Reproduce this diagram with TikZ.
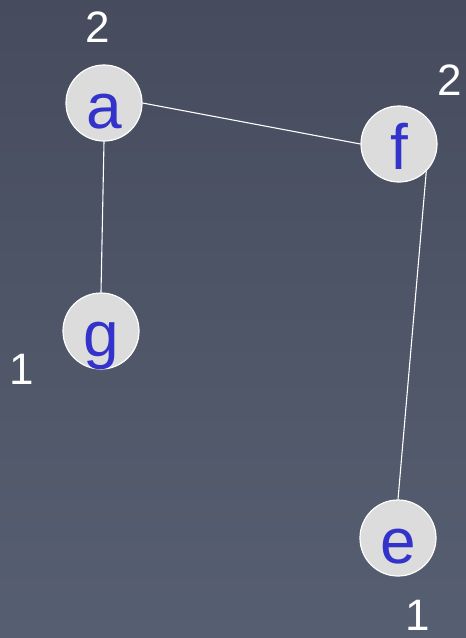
\documentclass[tikz,border=0pt]{standalone}
\usepackage{fontspec}
\setmainfont{Liberation Sans}
\usepackage{xcolor}
\usetikzlibrary{positioning}
\definecolor{bgtop}{RGB}{70,76,94}
\definecolor{bgbottom}{RGB}{86,95,113}
\definecolor{ballfill}{RGB}{220,220,220}
\definecolor{balltext}{RGB}{51,51,204}

\begin{document}
\begin{tikzpicture}[x=1pt,y=-1pt,
					ball/.style = {circle, draw=white, line width=1.2pt, fill=ballfill, minimum size=76pt, inner sep=0pt, text=balltext, text height=50pt, text depth=0pt, font=\fontsize{64}{64}\selectfont},
					deg/.style = {text=white, font=\fontsize{44}{44}\selectfont, inner sep=0pt},
					edge/.style = {-, draw=white, line width=1.1pt}]
					\shade[top color=bgtop, bottom color=bgbottom] (0,0) rectangle (466,638);
					\useasboundingbox (0,0) rectangle (466,638);
					\node[ball] (a) at (104, 103) {a};
					\node[ball] (f) at (399, 144) {f};
					\node[ball] (g) at (101, 331) {g};
					\node[ball] (e) at (398, 538) {e};
					
					\node[deg] (da) at (98, 27) {2};
					\node[deg] (df) at (450, 80) {2};
					\node[deg] (dg) at (22, 369) {1};
					\node[deg] (de) at (418, 615) {1};
					
					\draw[edge] (a.east) to (f.west);
					\draw[edge] (a.south) to (g.north);
					\draw[edge] (f.south east) to (e.north);
				\end{tikzpicture}
\end{document}
